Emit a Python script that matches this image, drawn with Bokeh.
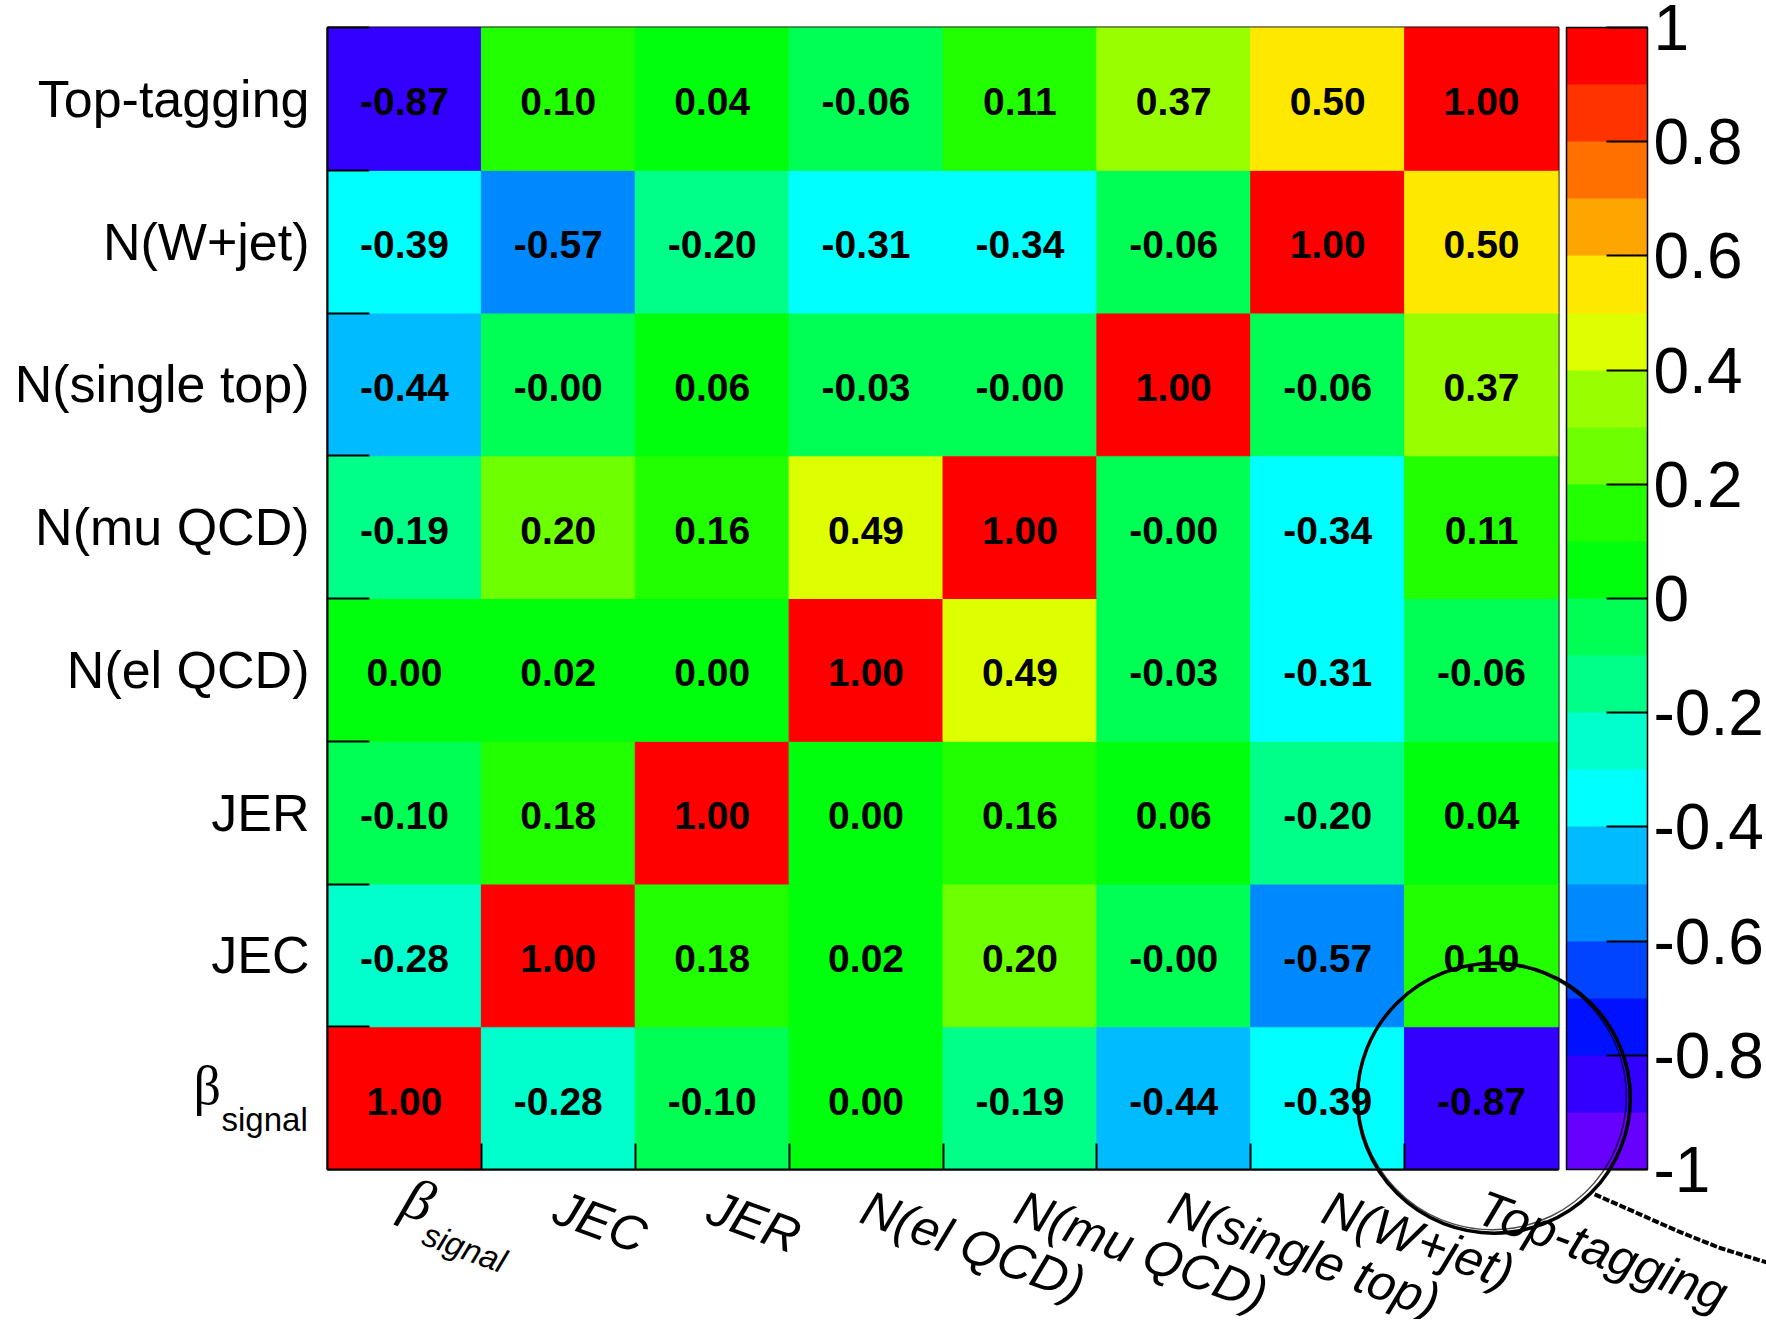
from bokeh.plotting import figure
from bokeh.models import (ColumnDataSource, LinearColorMapper, ColorBar, FixedTicker,
                          Range1d, CustomJSTickFormatter)
from bokeh.core.properties import value
from bokeh.embed import file_html
from bokeh.resources import INLINE

# ---------------- data ----------------
var_main = ["β", "JEC", "JER", "N(el QCD)", "N(mu QCD)", "N(single top)", "N(W+jet)", "Top-tagging"]
var_sub = ["signal", "", "", "", "", "", "", ""]

# correlation rows (row order = var_main order, bottom to top)
corr_beta    = [1.00, -0.28, -0.099, 0.00, -0.19, -0.44, -0.39, -0.87]
corr_jec     = [-0.28, 1.00, 0.18, 0.02, 0.201, -0.001, -0.57, 0.101]
corr_jer     = [-0.099, 0.18, 1.00, 0.00, 0.16, 0.06, -0.199, 0.04]
corr_el_qcd  = [0.00, 0.02, 0.00, 1.00, 0.49, -0.03, -0.31, -0.06]
corr_mu_qcd  = [-0.19, 0.201, 0.16, 0.49, 1.00, -0.001, -0.34, 0.11]
corr_stop    = [-0.44, -0.001, 0.06, -0.03, -0.001, 1.00, -0.06, 0.37]
corr_wjet    = [-0.39, -0.57, -0.199, -0.31, -0.34, -0.06, 1.00, 0.501]
corr_toptag  = [-0.87, 0.101, 0.04, -0.06, 0.11, 0.37, 0.501, 1.00]
corr_rows = [corr_beta, corr_jec, corr_jer, corr_el_qcd, corr_mu_qcd, corr_stop, corr_wjet, corr_toptag]

cbar_ticks = [-1.0, -0.8, -0.6, -0.4, -0.2, 0.0, 0.2, 0.4, 0.6, 0.8, 1.0]
palette = ["#6600FF", "#3300FF", "#0011FF", "#0044FF", "#0088FF", "#00BBFF", "#00FFFF",
           "#00FFCC", "#00FF88", "#00FF55", "#00FF0C", "#22FF00", "#6EFF00", "#99FF00",
           "#DDFF00", "#FFE800", "#FFA500", "#FF7000", "#FF3300", "#FF0000"]

# ---------------- build ----------------
n = len(var_main)
xs, ys, vs, txt = [], [], [], []
for j, row in enumerate(corr_rows):
    for i, v in enumerate(row):
        xs.append(i + 0.5)
        ys.append(j + 0.5)
        vs.append(v)
        txt.append(f"{v:.2f}")
src = ColumnDataSource(dict(x=xs, y=ys, v=vs, t=txt))

mapper = LinearColorMapper(palette=palette, low=-1, high=1)

p = figure(frame_width=1231, frame_height=1142, x_range=Range1d(0, n), y_range=Range1d(0, n),
           output_backend="svg", toolbar_location=None,
           min_border_left=327, min_border_top=27, min_border_bottom=150, min_border_right=0)
p.grid.visible = False
p.outline_line_color = "black"
p.outline_line_width = 2
p.background_fill_color = "white"

p.rect(x="x", y="y", width=1, height=1, source=src,
       fill_color={"field": "v", "transform": mapper},
       line_color={"field": "v", "transform": mapper}, line_width=1)
p.text(x="x", y="y", text="t", source=src, text_align="center", text_baseline="middle",
       text_font=value("Liberation Sans"), text_font_style="bold", text_font_size="39px",
       text_color="black", y_offset=3)

# axes
p.xaxis.ticker = FixedTicker(ticks=[], minor_ticks=list(range(1, n)))
p.xaxis.major_tick_in = 0
p.xaxis.major_tick_out = 0
p.xaxis.minor_tick_in = 26
p.xaxis.minor_tick_out = 0
p.xaxis.minor_tick_line_color = "black"
p.xaxis.minor_tick_line_width = 2
p.xaxis.axis_line_color = "black"
p.xaxis.axis_line_width = 2
p.xaxis.major_label_text_font_size = "0px"

p.yaxis.ticker = FixedTicker(ticks=[j + 0.5 for j in range(n)], minor_ticks=list(range(1, n + 1)))
p.yaxis.major_label_overrides = {j + 0.5: ("" if var_sub[j] else var_main[j]) for j in range(n)}
p.yaxis.major_tick_in = 0
p.yaxis.major_tick_out = 0
p.yaxis.minor_tick_in = 42
p.yaxis.minor_tick_out = 0
p.yaxis.minor_tick_line_color = "black"
p.yaxis.minor_tick_line_width = 2
p.yaxis.axis_line_color = "black"
p.yaxis.axis_line_width = 2
p.yaxis.major_label_text_font = "Liberation Sans"
p.yaxis.major_label_text_font_size = "52px"
p.yaxis.major_label_text_color = "black"
p.yaxis.major_label_standoff = 18

# ---- labels with subscripts / rotated x labels (unclipped text glyphs) ----
sub_idx = [k for k in range(n) if var_sub[k]]
plain_idx = [k for k in range(n) if not var_sub[k]]

# y-axis label with subscript
ysub = ColumnDataSource(dict(x=[0.0 for k in sub_idx], y=[k + 0.5 for k in sub_idx],
                             m=[var_main[k] for k in sub_idx], s=[var_sub[k] for k in sub_idx]))
p.text(x="x", y="y", text="m", source=ysub, x_offset=-134, y_offset=-12,
       text_font=value("Liberation Serif"), text_font_size="54px", text_color="black",
       text_align="left", text_baseline="alphabetic", level="overlay")
p.text(x="x", y="y", text="s", source=ysub, x_offset=-106, y_offset=21,
       text_font=value("Liberation Sans"), text_font_size="33px", text_color="black",
       text_align="left", text_baseline="alphabetic", level="overlay")

# x-axis labels, rotated
ang = -0.35
xplain = ColumnDataSource(dict(x=[k + 0.5 for k in plain_idx], y=[0.0 for k in plain_idx],
                               t=[var_main[k] for k in plain_idx]))
p.text(x="x", y="y", text="t", source=xplain, angle=ang, x_offset=7, y_offset=10,
       text_font=value("Liberation Sans"), text_font_style="italic", text_font_size="50px",
       text_color="black", text_align="left", text_baseline="top", level="overlay")
xsub = ColumnDataSource(dict(x=[k + 0.5 for k in sub_idx], y=[0.0 for k in sub_idx],
                             m=[var_main[k] for k in sub_idx], s=[var_sub[k] for k in sub_idx]))
p.text(x="x", y="y", text="m", source=xsub, angle=ang, x_offset=12, y_offset=-5,
       text_font=value("Liberation Serif"), text_font_style="italic", text_font_size="58px",
       text_color="black", text_align="left", text_baseline="top", level="overlay")
p.text(x="x", y="y", text="s", source=xsub, angle=ang, x_offset=26, y_offset=46,
       text_font=value("Liberation Sans"), text_font_style="italic", text_font_size="33px",
       text_color="black", text_align="left", text_baseline="top", level="overlay")

# colour bar
cb = ColorBar(color_mapper=mapper, ticker=FixedTicker(ticks=cbar_ticks),
              formatter=CustomJSTickFormatter(code='return tick.toFixed(1).replace(/\\.0$/, "")'),
              width=81, height=1142, padding=0, margin=0, location=(8, 0),
              major_tick_in=41, major_tick_out=0, major_tick_line_color="black", major_tick_line_width=2,
              minor_tick_line_color=None,
              major_label_text_font="Liberation Sans", major_label_text_font_size="64px",
              major_label_text_color="black", label_standoff=6,
              bar_line_color="black", bar_line_width=1.5,
              border_line_color=None, background_fill_color=None)
p.add_layout(cb, "right")

# hand-drawn highlight around the Top-tagging / beta_signal cell
hx = var_main.index("Top-tagging") + 0.58
hy = 0.5
p.ellipse(x=[hx], y=[hy], width=273, height=270, width_units="screen", height_units="screen",
          fill_color=None, line_color="black", line_width=3.5, level="overlay")
p.ellipse(x=[hx - 0.01], y=[hy + 0.01], width=268, height=266, width_units="screen", height_units="screen",
          angle=0.08, fill_color=None, line_color="black", line_width=1.5, line_alpha=0.7, level="overlay")
p.line(x=[8.235, 8.5, 8.78, 9.05, 9.353], y=[-0.174, -0.30, -0.434, -0.55, -0.651],
       line_color="black", line_width=4, line_dash="7 2", level="overlay")

open("out.html", "w").write(file_html(p, INLINE))
